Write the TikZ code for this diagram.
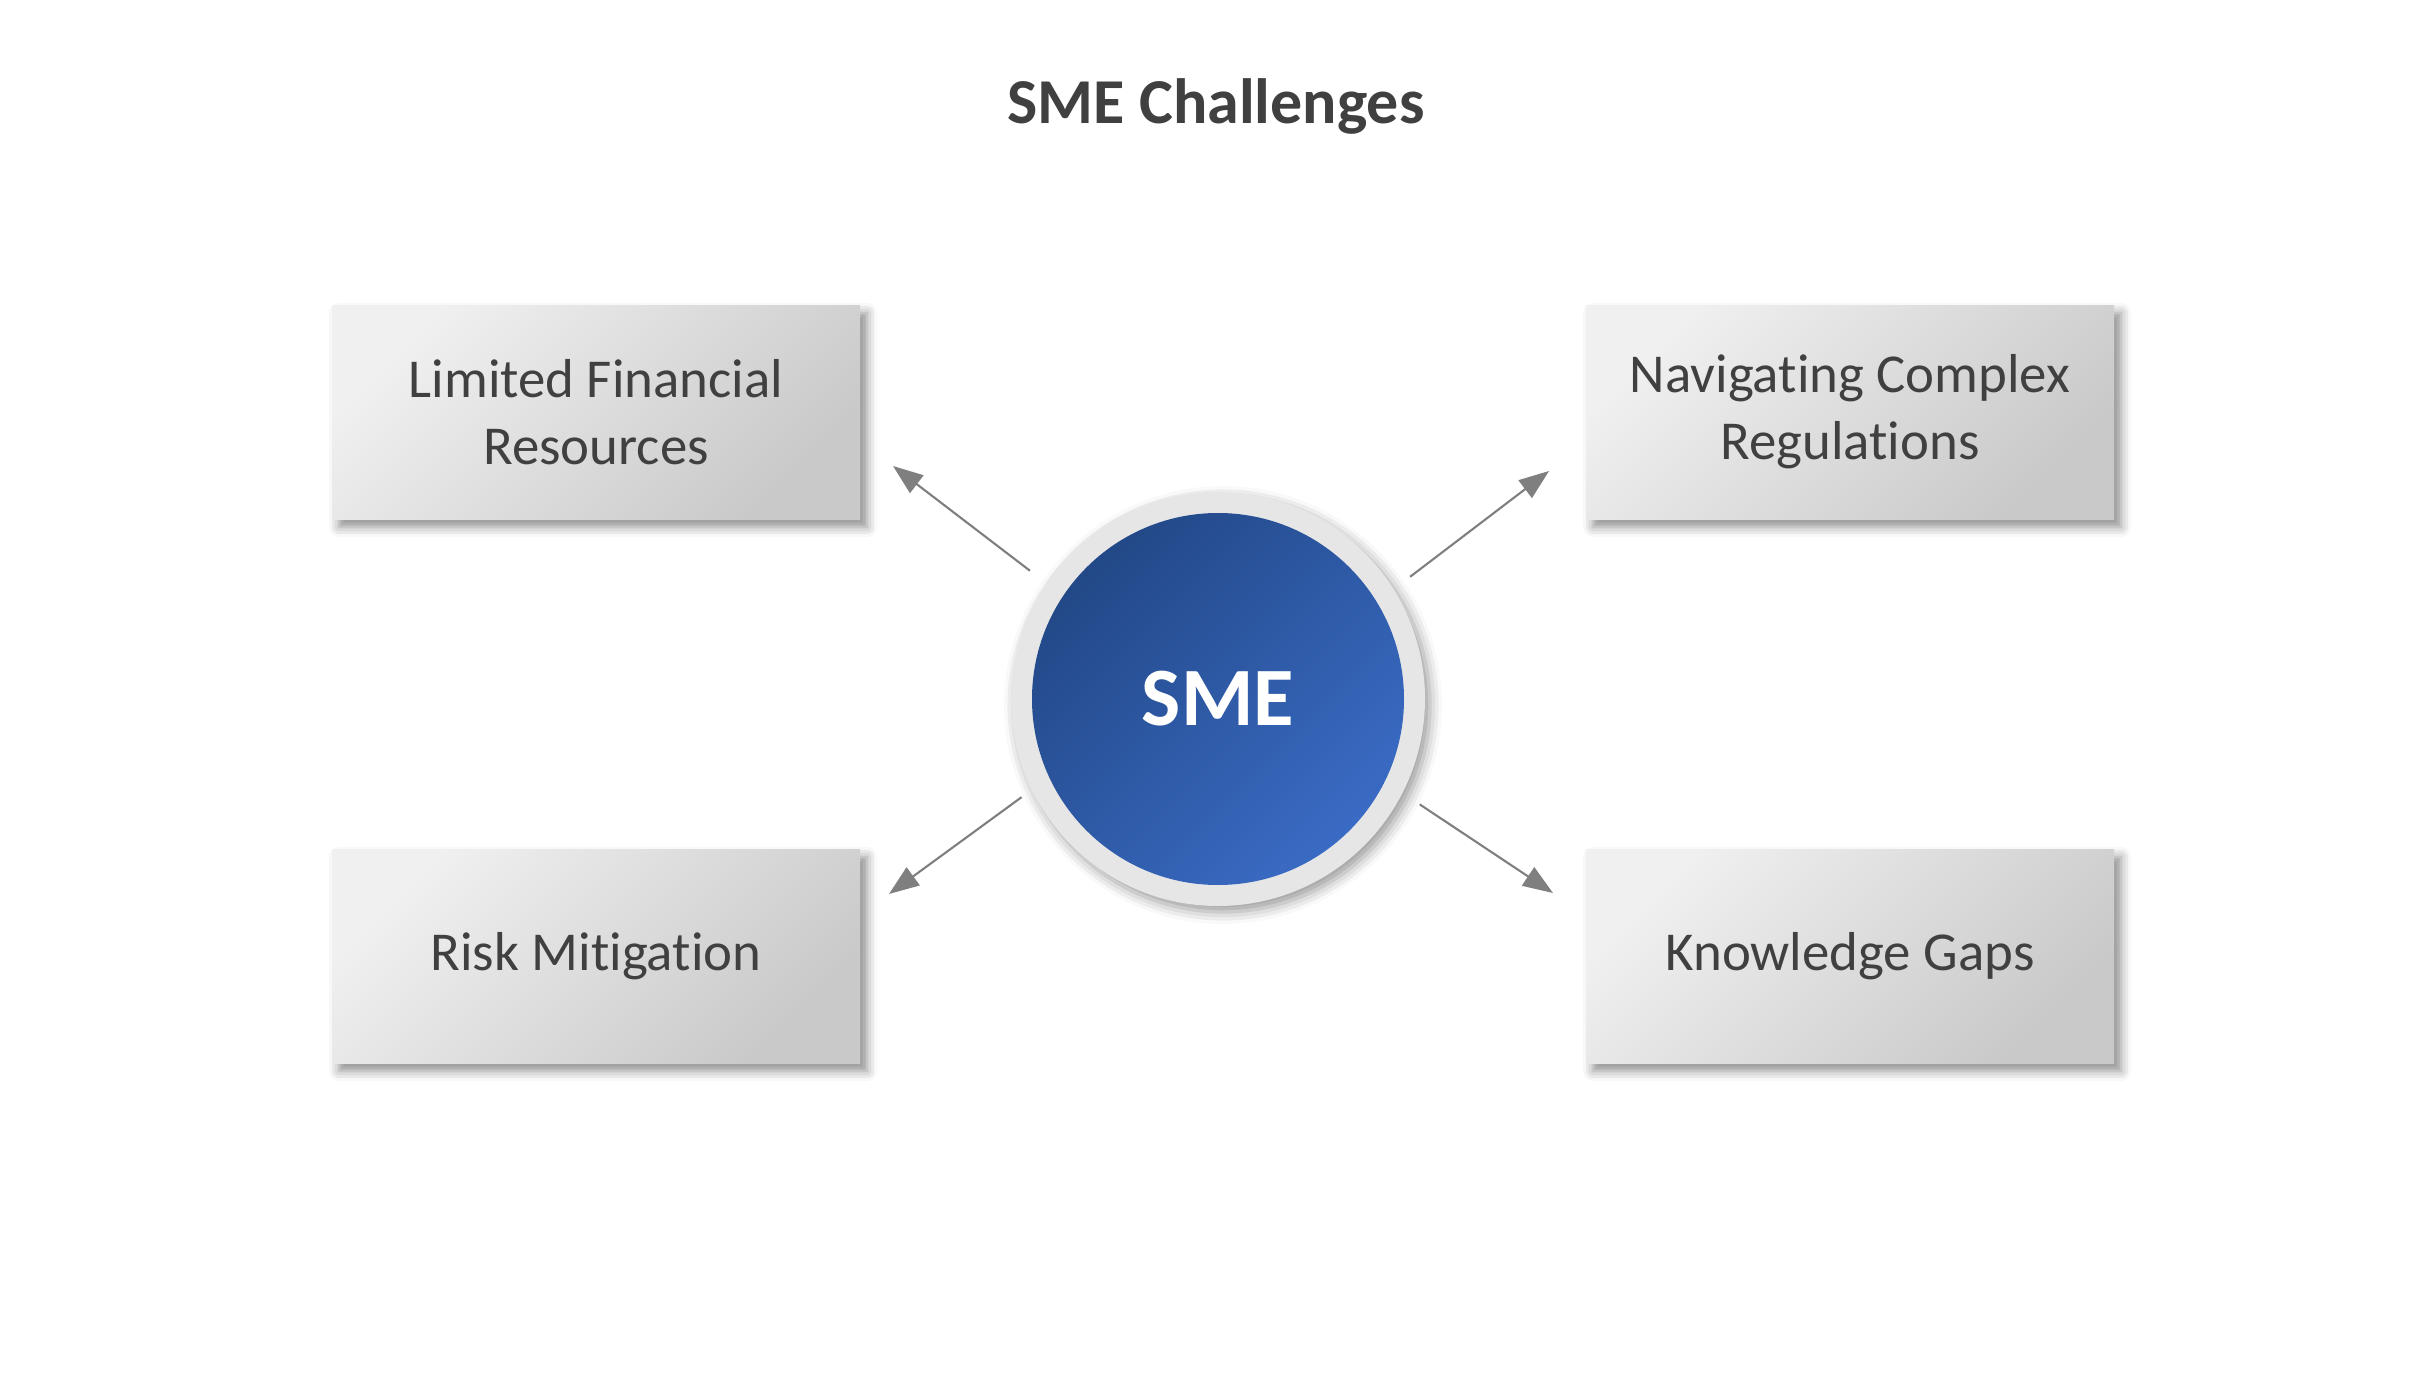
\documentclass[tikz,border=0pt]{standalone}
\usepackage{fontspec}
\setmainfont{Carlito}[Ligatures=NoCommon]
\usepackage{xcolor}
\usepackage{tikz}
\usetikzlibrary{arrows.meta, positioning, shadows.blur}
\definecolor{txtgray}{HTML}{404040}
\definecolor{boxlight}{HTML}{F0F0F0}
\definecolor{boxdark}{HTML}{C9C9C9}
\definecolor{ringgray}{HTML}{E6E6E6}
\definecolor{smedark}{HTML}{224887}
\definecolor{smelight}{HTML}{3A6BC4}
\definecolor{arrowgray}{HTML}{7F7F7F}

\begin{document}
\begin{tikzpicture}[
    challenge/.style={minimum width=5.28cm, minimum height=2.14cm, align=center,
                top color=boxlight, bottom color=boxdark, shading angle=45,
                text=txtgray, font=\fontsize{15.6}{19}\selectfont,
                blur shadow={shadow xshift=0.07cm, shadow yshift=-0.08cm,
                             shadow blur radius=0.1cm, shadow opacity=45}},
    ring/.style={circle, fill=ringgray, minimum size=4.14cm, inner sep=0pt,
                 blur shadow={shadow xshift=0.05cm, shadow yshift=-0.06cm,
                              shadow blur radius=0.12cm, shadow opacity=40}},
    core/.style={circle, minimum size=3.72cm, inner sep=0pt,
                 top color=smedark, bottom color=smelight, shading angle=45,
                 text=white, font=\fontsize{23.6}{28}\selectfont\bfseries},
    arrow/.style={-{Triangle[length=0.3cm, width=0.22cm]}, arrowgray,
                  line width=0.6pt, shorten <=0.2cm}
  ]
    \useasboundingbox (0,0) rectangle (24.32,-13.97);

    % Title
    \node[text=txtgray, font=\fontsize{18.2}{22}\selectfont\bfseries] (title)
      at (12.16,-1.06) {SME Challenges};

    % Centre
    \node[ring] (sme) at (12.18,-6.99) {};
    \node[core] (smecore) at (sme) {SME};

    % Challenges
    \node[challenge] (finance) at (5.96,-4.12) {Limited Financial\\Resources};
    \node[challenge] (regul) at (18.50,-4.12) {Navigating Complex\\Regulations};
    \node[challenge] (risk) at (5.96,-9.56) {Risk Mitigation};
    \node[challenge] (gaps) at (18.50,-9.56) {Knowledge Gaps};

    % Arrow tips
    \coordinate (tfin) at (8.93,-4.66);
    \coordinate (treg) at (15.49,-4.71);
    \coordinate (trisk) at (8.89,-8.94);
    \coordinate (tgap) at (15.53,-8.93);

    % Arrows
    \draw[arrow] (sme.146) -- (tfin);
    \draw[arrow] (sme.32) -- (treg);
    \draw[arrow, shorten <=0.12cm] (sme.206) -- (trisk);
    \draw[arrow] (sme.333) -- (tgap);
  \end{tikzpicture}
\end{document}
